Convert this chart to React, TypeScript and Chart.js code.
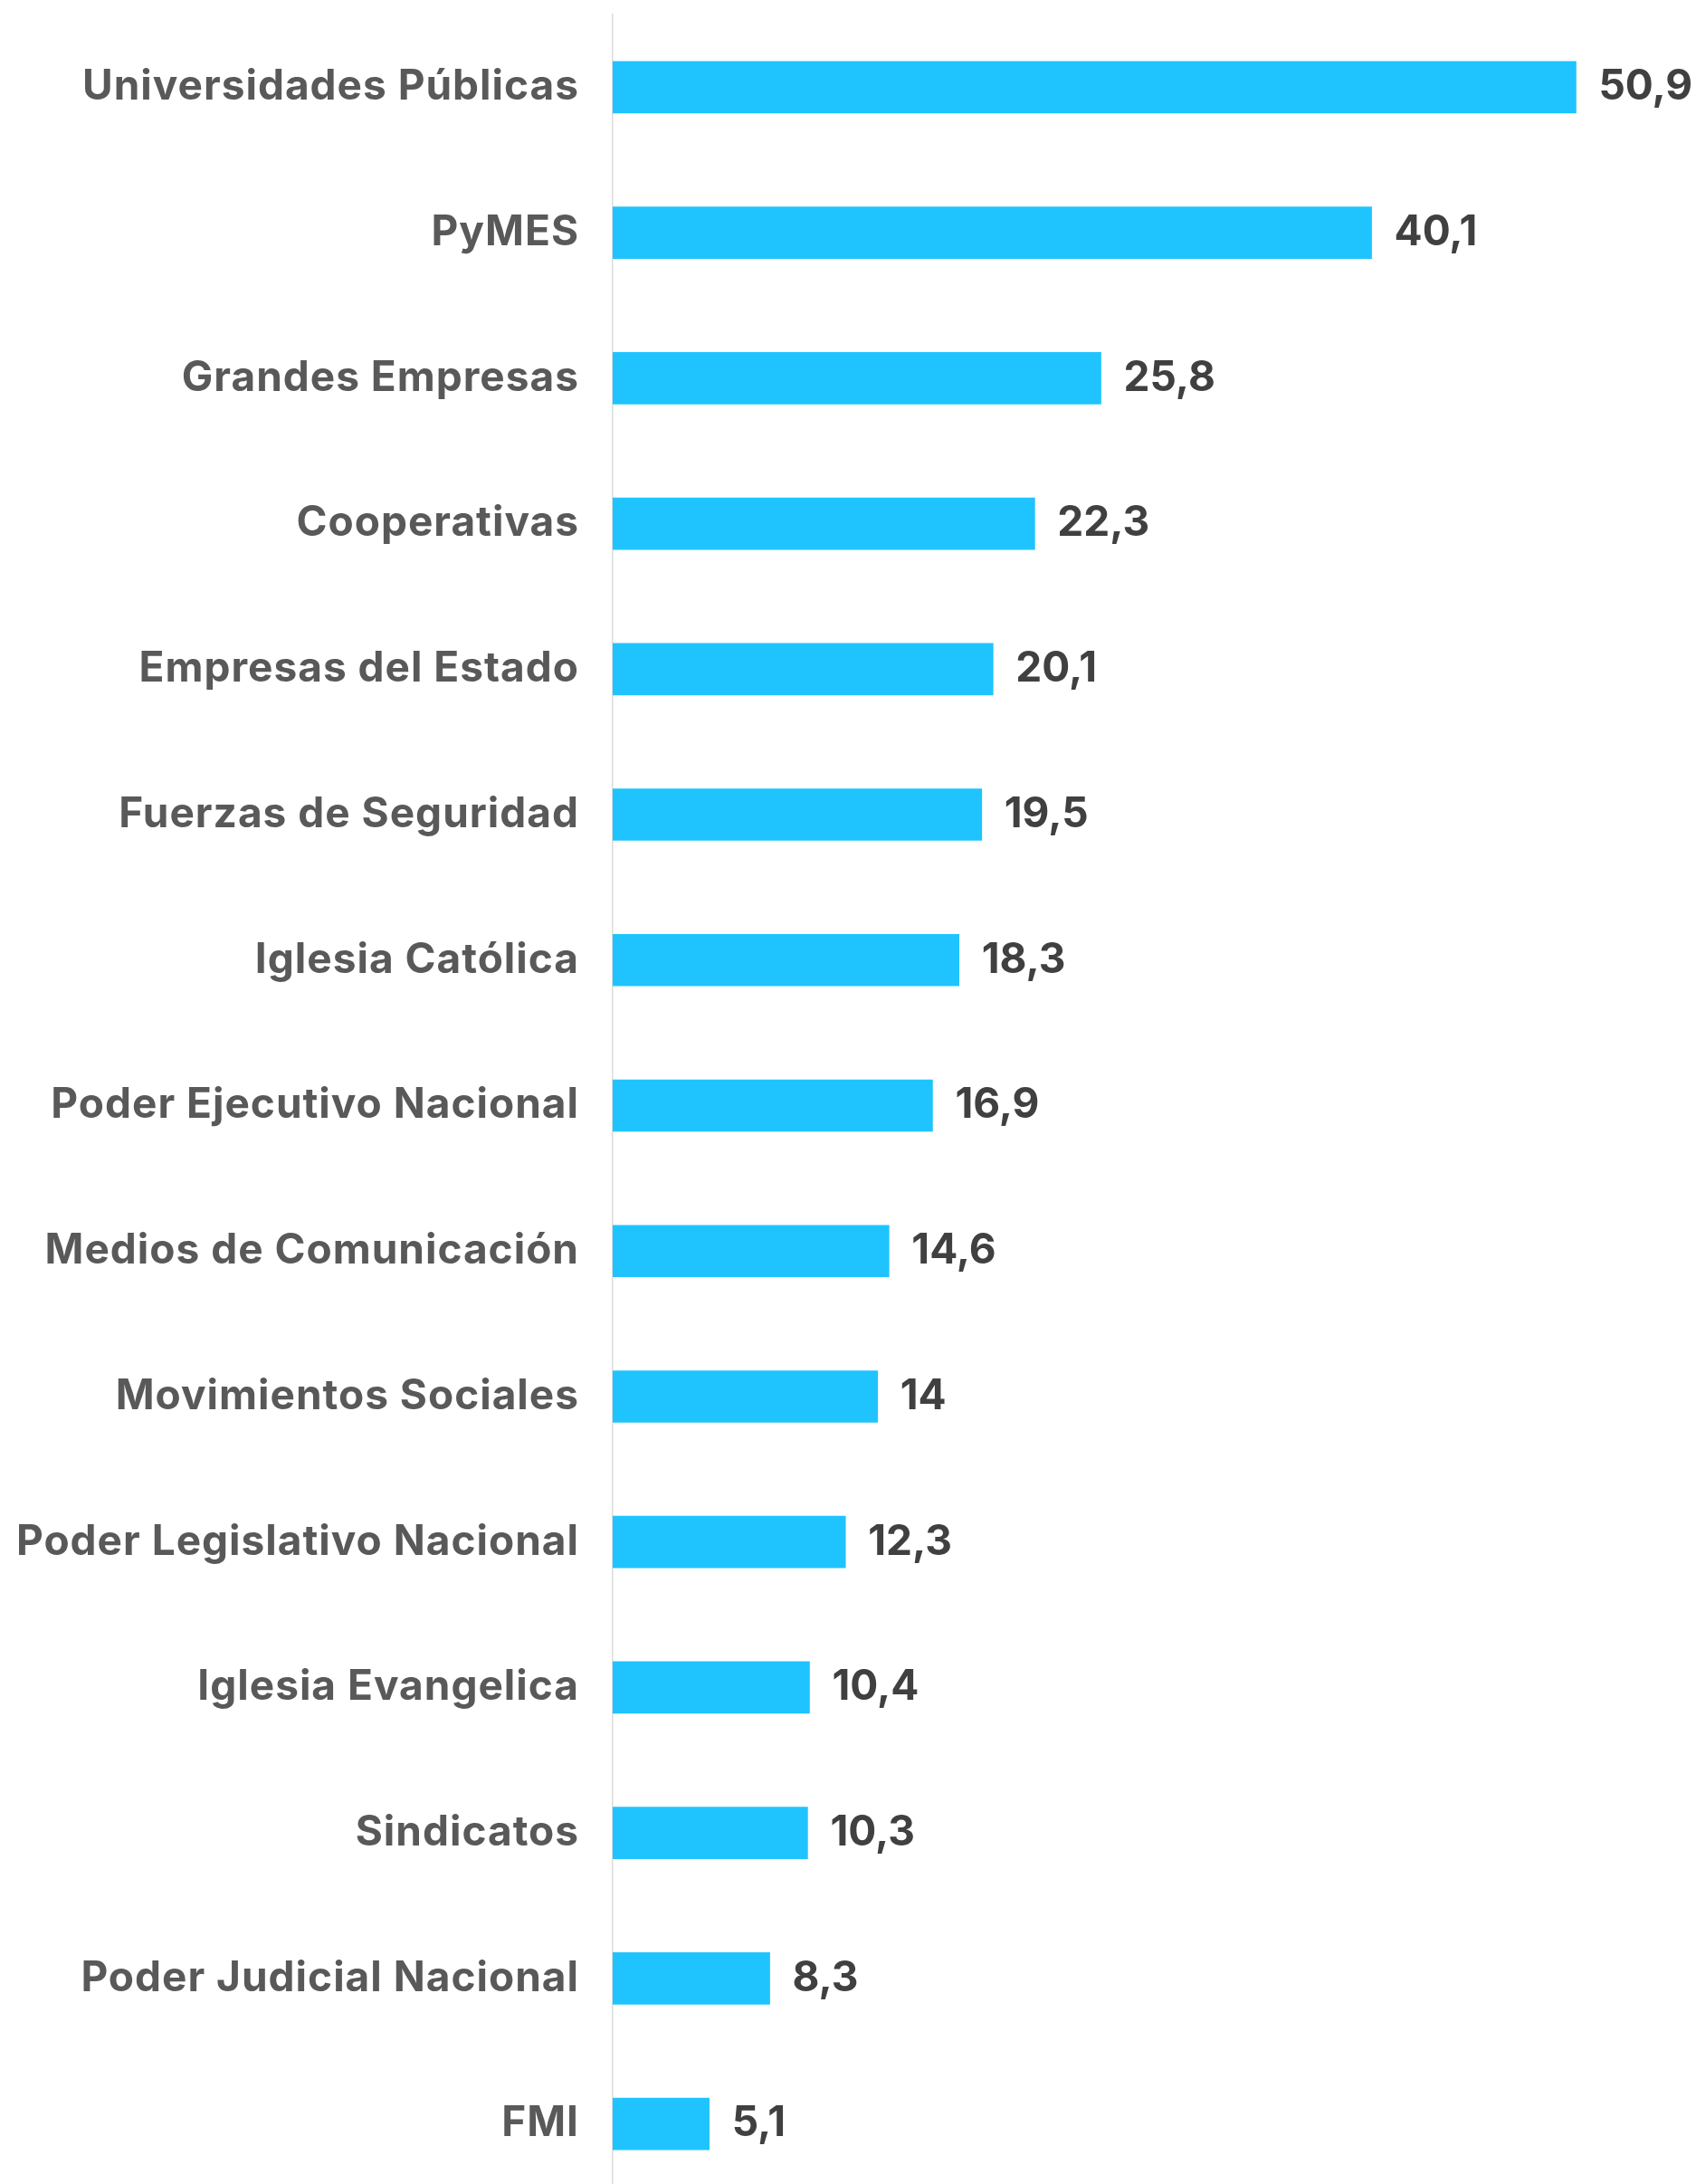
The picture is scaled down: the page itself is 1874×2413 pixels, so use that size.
import React, { useEffect, useRef } from "react";
import { Chart, registerables } from "chart.js";

Chart.register(...registerables);

const categories: string[] = [
  "Universidades Públicas",
  "PyMES",
  "Grandes Empresas",
  "Cooperativas",
  "Empresas del Estado",
  "Fuerzas de Seguridad",
  "Iglesia Católica",
  "Poder Ejecutivo Nacional",
  "Medios de Comunicación",
  "Movimientos Sociales",
  "Poder Legislativo Nacional",
  "Iglesia Evangelica",
  "Sindicatos",
  "Poder Judicial Nacional",
  "FMI",
];

const values: number[] = [50.9, 40.1, 25.8, 22.3, 20.1, 19.5, 18.3, 16.9, 14.6, 14, 12.3, 10.4, 10.3, 8.3, 5.1];

const xMin = 0;
const xMax = 57;

const formatValue = (v: number) => String(v).replace(".", ",");

const spacingPlugin = {
  id: "labelSpacing",
  beforeDraw(chart: any) {
    (chart.ctx as any).letterSpacing = "1px";
  },
  afterDraw(chart: any) {
    (chart.ctx as any).letterSpacing = "0px";
  },
};

const valueLabelPlugin = {
  id: "valueLabels",
  afterDatasetsDraw(chart: any) {
    const ctx = chart.ctx;
    const meta = chart.getDatasetMeta(0);
    ctx.save();
    (ctx as any).letterSpacing = "0px";
    ctx.font = "700 46px Inter";
    ctx.fillStyle = "#404040";
    ctx.textAlign = "left";
    ctx.textBaseline = "middle";
    meta.data.forEach((bar: any, i: number) => {
      ctx.fillText(formatValue(values[i]), bar.x + 25, bar.y);
    });
    ctx.restore();
  },
};

export default function App() {
  const ref = useRef<HTMLCanvasElement | null>(null);

  useEffect(() => {
    if (!ref.current) return;
    const chart = new Chart(ref.current, {
      type: "bar",
      data: {
        labels: categories,
        datasets: [
          {
            data: values,
            backgroundColor: "#1fc4ff",
            borderWidth: 0,
            barThickness: 57,
          },
        ],
      },
      options: {
        indexAxis: "y",
        animation: false,
        responsive: false,
        devicePixelRatio: 1,
        layout: { padding: { top: 16, bottom: 0, left: 0, right: 5 } },
        plugins: {
          legend: { display: false },
          tooltip: { enabled: false },
        },
        scales: {
          x: {
            display: false,
            min: xMin,
            max: xMax,
          },
          y: {
            afterFit: (scale: any) => {
              scale.width = 677;
              scale.paddingTop = 0;
              scale.paddingBottom = 0;
            },
            grid: { display: false, drawTicks: false },
            border: { display: true, color: "#dcdcdc", width: 1.5 },
            ticks: {
              padding: 37,
              color: "#595959",
              font: { family: "Inter", size: 46, weight: "700" },
            },
          },
        },
      },
      plugins: [spacingPlugin, valueLabelPlugin],
    });
    return () => chart.destroy();
  }, []);

  return (
    <div style={{ position: "absolute", left: 0, top: 0, width: 1874, height: 2427, background: "#fff" }}>
      <canvas ref={ref} width={1874} height={2427} />
    </div>
  );
}
